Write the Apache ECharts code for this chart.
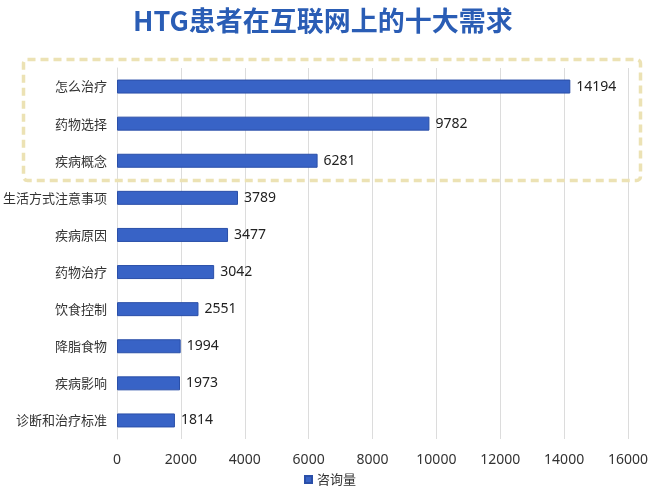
<!DOCTYPE html>
<html><head><meta charset="utf-8">
<script src="https://cdn.jsdelivr.net/npm/echarts@6/dist/echarts.min.js"></script>
<style>html,body{margin:0;padding:0;background:#fff}#c{width:660px;height:497px}</style>
</head><body><div id="c"></div>
<script>
const titleText = 'HTG患者在互联网上的十大需求';
const categories = ['怎么治疗','药物选择','疾病概念','生活方式注意事项','疾病原因','药物治疗','饮食控制','降脂食物','疾病影响','诊断和治疗标准'];
const values = [14194, 9782, 6281, 3789, 3477, 3042, 2551, 1994, 1973, 1814];
const seriesName = '咨询量';
const xTicks = [0,2000,4000,6000,8000,10000,12000,14000,16000];

const chart = echarts.init(document.getElementById('c'));
chart.setOption({
  backgroundColor: '#fff',
  title: {
    text: titleText, left: 128, top: 2,
    textStyle: {color: '#2a5db5', fontSize: 27, fontWeight: 'bold', fontFamily: 'Noto Sans CJK SC'}
  },
  legend: {
    bottom: 6, left: 'center', itemWidth: 7, itemHeight: 7, itemGap: 4,
    icon: 'rect',
    textStyle: {color: '#333', fontSize: 13, fontFamily: 'Noto Sans CJK SC'},
    data: [seriesName]
  },
  grid: {left: 116, right: 32, top: 68, bottom: 58, containLabel: false},
  xAxis: {
    type: 'value', min: xTicks[0], max: xTicks[xTicks.length-1], interval: 2000,
    axisLine: {show: false}, axisTick: {show: false},
    splitLine: {lineStyle: {color: '#dcdcdc', width: 1}},
    axisLabel: {color: '#333', fontSize: 14, margin: 14, fontFamily: 'Noto Sans', formatter: v => String(v)}
  },
  yAxis: {
    type: 'category', data: categories, inverse: true,
    axisLine: {show: true, lineStyle: {color: '#dcdcdc'}}, axisTick: {show: false},
    axisLabel: {color: '#333', fontSize: 13, margin: 10, fontFamily: 'Noto Sans CJK SC'}
  },
  series: [{
    name: seriesName, type: 'bar', data: values, barWidth: 14,
    itemStyle: {color: '#3863c6', borderColor: '#2a4fa8', borderWidth: 1},
    label: {show: true, position: 'right', distance: 6, color: '#222', fontSize: 14, fontFamily: 'Noto Sans'}
  }],
  graphic: [{
    type: 'rect', left: 21, top: 57, silent: true, z: 100,
    shape: {width: 617, height: 121, r: 4},
    style: {fill: 'none', stroke: '#ece2b4', lineWidth: 3.5, lineDash: [8, 5]}
  }]
});
</script></body></html>
